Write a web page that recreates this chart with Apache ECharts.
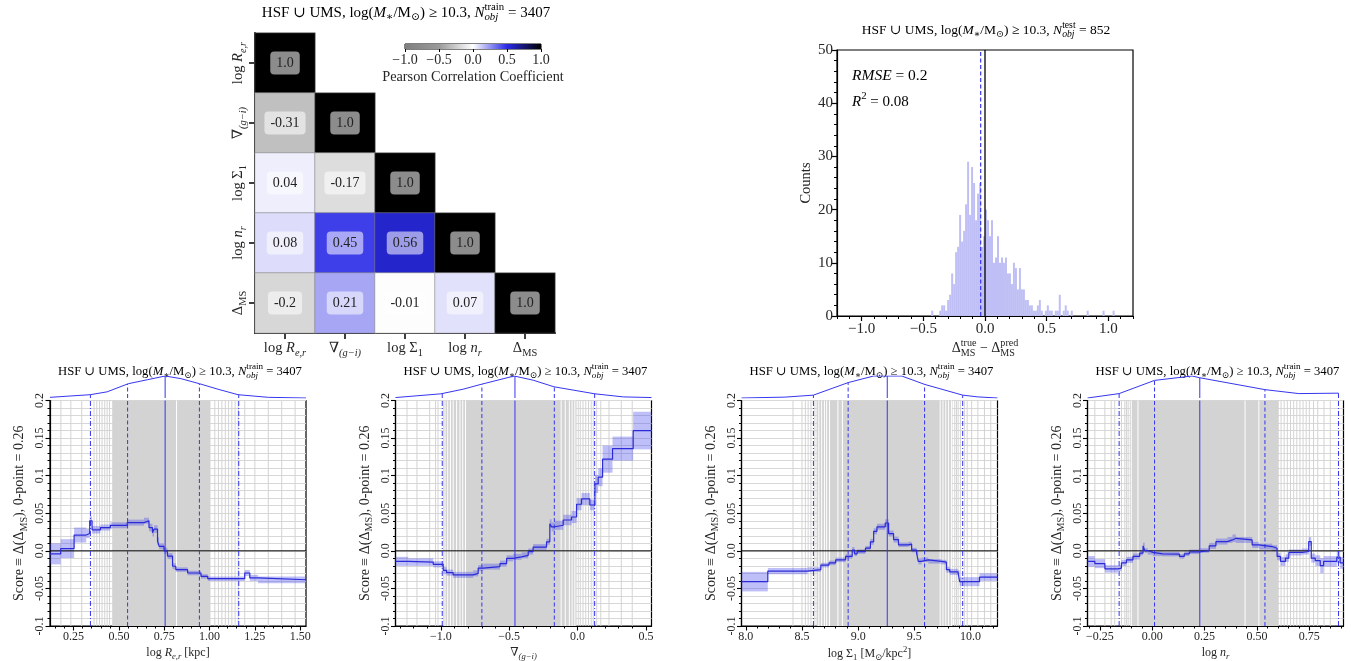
<!DOCTYPE html>
<html><head><meta charset="utf-8">
<script src="https://cdn.jsdelivr.net/npm/echarts@6/dist/echarts.min.js"></script>
<style>html,body{margin:0;padding:0;background:#fff}#c{width:1367px;height:661px}</style>
</head><body><div id="c"></div>
<script>
// ---------------- DATA ----------------
const corrRows = [[1.0],[-0.31,1.0],[0.04,-0.17,1.0],[0.08,0.45,0.56,1.0],[-0.2,0.21,-0.01,0.07,1.0]];
const cbarTicks = [-1,-0.5,0,0.5,1];
const cmapColors = ['#7f7f7f','#9a9a9a','#ffffff','#2a2ae8','#000000'];

const histBinStart = -0.436, histBinWidth = 0.01616;
const histCounts = [1,0,0,0,1,2,2,1,3,4, 8,6,12,13,19,14,16,21,29,19, 28,25,18,23,25,13,15,20,18,15,
  18,10,11,15,10,11,10,11,8,8, 6,10,9,5,9,5,5,3,3,2, 2,1,1,2,3,1,0,1,2,1, 1,0,1,1,4,0,1,2,1,0,
  1,0,0,0,0,0,0,0,1,0, 0,0,0,0,0,0,1,0,0,0, 0,1];
const histMedianLine = -0.035;
const histXTicks = [-1,-0.5,0,0.5,1];

// Panel 1 : log R_e,r
const p1Edges = [0.12,0.179,0.253,0.32,0.339,0.352,0.398,0.453,0.546,0.638,0.666,0.685,0.694,0.713,0.722,0.749,0.768,0.796,0.814,0.879,0.953,0.99,1.194,1.222,1.268,1.532];
const p1Score = [-0.004,0.003,0.021,0.023,0.040,0.028,0.031,0.034,0.0375,0.040,0.031,0.024,0.029,0.013,0.006,0.000,-0.007,-0.0205,-0.025,-0.0295,-0.034,-0.037,-0.0295,-0.036,-0.0385];
const p1Err = [0.014,0.0125,0.01,0.006,0.006,0.005,0.004,0.004,0.004,0.004,0.005,0.005,0.005,0.005,0.004,0.004,0.004,0.004,0.003,0.003,0.003,0.003,0.004,0.004,0.0045];
const p1KdeX = [0.12,0.342,0.435,0.552,0.657,0.755,0.842,0.944,1.046,1.157,1.324,1.532];
const p1KdeY = [0.03,0.15,0.28,0.65,0.83,1.0,0.88,0.65,0.4,0.15,0.03,0.0];
const p1Quant = [0.343,0.548,0.755,0.944,1.161];
const p1QuantKde = [0.15,0.64,1.0,0.64,0.15];
const p1Dense = [0.463,1.005];
const p1GrayLines = [0.18,0.235,0.295,0.363,0.378,0.393,0.407,0.422,0.435,0.448,1.029,1.049,1.068,1.087,1.105,1.123,1.141,1.158,1.194,1.25,1.324,1.398,1.472];
const p1WhiteLines = [0.818];

// Panel 2 : grad (g-i)
const p2Edges = [-1.332,-1.239,-1.056,-0.983,-0.958,-0.910,-0.764,-0.727,-0.690,-0.568,-0.519,-0.471,-0.410,-0.361,-0.325,-0.227,-0.203,-0.190,-0.166,-0.105,-0.044,-0.007,0.029,0.090,0.127,0.151,0.183,0.256,0.407,0.541];
const p2Score = [-0.014,-0.015,-0.018,-0.026,-0.029,-0.032,-0.030,-0.023,-0.021,-0.017,-0.010,-0.008,-0.006,-0.001,0.005,0.012,0.036,0.032,0.034,0.041,0.045,0.062,0.069,0.061,0.089,0.098,0.122,0.136,0.160];
const p2Err = [0.006,0.005,0.004,0.005,0.004,0.004,0.004,0.004,0.004,0.004,0.004,0.004,0.004,0.004,0.004,0.004,0.006,0.006,0.006,0.007,0.008,0.008,0.008,0.007,0.012,0.012,0.018,0.016,0.025];
const p2KdeX = [-1.332,-1.0,-0.837,-0.707,-0.464,-0.325,-0.173,0.127,0.334,0.541];
const p2KdeY = [0.02,0.19,0.40,0.62,1.0,0.81,0.51,0.19,0.05,0.02];
const p2Quant = [-0.99,-0.70,-0.458,-0.17,0.125];
const p2QuantKde = [0.19,0.62,1.0,0.51,0.19];
const p2Dense = [-0.983,-0.007];
const p2GrayLines = [-1.248,-1.175,-1.082,-1.039,-1.021,0.005,0.02,0.04,0.06,0.08,0.10,0.115,0.14,0.17,0.23,0.32,0.40];
const p2WhiteLines = [-0.97,-0.95,-0.93,-0.91,-0.885,-0.86,-0.84,-0.82,-0.12,-0.09,-0.06,-0.04,-0.02];

// Panel 3 : log Sigma_1
const p3Edges = [7.962,8.196,8.549,8.668,8.741,8.800,8.888,8.947,8.968,8.991,9.065,9.109,9.138,9.167,9.241,9.271,9.315,9.359,9.447,9.476,9.520,9.535,9.564,9.624,9.741,9.785,9.815,9.888,9.903,10.080,10.24];
const p3Score = [-0.041,-0.027,-0.025,-0.019,-0.016,-0.012,-0.0075,0.001,-0.004,-0.001,0.0035,0.012,0.026,0.032,0.037,0.023,0.015,0.008,0.009,0.001,-0.003,-0.014,-0.012,-0.014,-0.015,-0.025,-0.028,-0.030,-0.041,-0.035];
const p3Err = [0.013,0.004,0.003,0.003,0.003,0.003,0.003,0.004,0.003,0.003,0.003,0.004,0.004,0.004,0.005,0.004,0.004,0.003,0.003,0.003,0.003,0.004,0.003,0.003,0.003,0.004,0.004,0.004,0.006,0.005];
const p3KdeX = [7.962,8.35,8.602,8.911,9.138,9.388,9.591,9.93,10.065,10.24];
const p3KdeY = [0.0,0.04,0.13,0.70,1.0,1.0,0.62,0.13,0.05,0.0];
const p3Quant = [8.602,8.911,9.259,9.591,9.93];
const p3QuantKde = [0.13,0.70,1.0,0.62,0.13];
const p3Dense = [8.63,9.84];
const p3GrayLines = [8.42,8.50,8.53,8.555,8.58,8.615,9.86,9.875,9.89,9.91,9.945,9.97,10.01,10.065,10.124,10.18];
const p3WhiteLines = [8.65,8.675,8.70,8.72,8.745,8.82,8.86,9.73,9.755,9.78,9.805,9.83];

// Panel 4 : log n_r
const p4Edges = [-0.309,-0.274,-0.226,-0.163,-0.147,-0.123,-0.092,-0.060,-0.044,-0.036,-0.021,0.003,0.050,0.130,0.153,0.177,0.225,0.272,0.304,0.359,0.383,0.399,0.477,0.509,0.573,0.596,0.612,0.636,0.652,0.715,0.747,0.759,0.778,0.802,0.818,0.881,0.897,0.913];
const p4Score = [-0.014,-0.017,-0.024,-0.023,-0.016,-0.012,-0.0075,-0.003,0.0066,0.0004,-0.002,-0.004,-0.0044,-0.0075,-0.004,-0.0013,0.0004,0.0066,0.0123,0.0145,0.0167,0.0145,0.0079,0.0057,0.0035,-0.0075,-0.014,-0.0097,-0.0022,-0.0009,0.0123,-0.0097,-0.013,-0.0198,-0.014,-0.0084,-0.016];
const p4Err = [0.007,0.006,0.005,0.004,0.004,0.004,0.004,0.003,0.004,0.003,0.003,0.003,0.003,0.003,0.003,0.003,0.003,0.004,0.004,0.004,0.005,0.004,0.004,0.004,0.004,0.005,0.006,0.005,0.004,0.004,0.006,0.006,0.007,0.010,0.007,0.008,0.008];
const p4KdeX = [-0.309,-0.158,0.011,0.19,0.227,0.538,0.70,0.889];
const p4KdeY = [0.0,0.2,0.8,1.0,0.92,0.38,0.2,0.22];
const p4Quant = [-0.158,0.011,0.227,0.538,0.889];
const p4QuantKde = [0.2,0.8,0.92,0.38,0.22];
const p4Dense = [-0.107,0.604];
const p4GrayLines = [-0.274,-0.226,-0.196,-0.179,-0.147,-0.131,-0.123,-0.115,0.615,0.63,0.645,0.66,0.675,0.69,0.705,0.72,0.735,0.75,0.77,0.79,0.82,0.85];
const p4WhiteLines = [-0.10,-0.068,0.443,0.509];

// ---------------- STYLE / TEXT ----------------
const F = '"Liberation Serif","DejaVu Serif",serif';
const TXT = '#262626';
const measCtx = document.createElement('canvas').getContext('2d');
function textW(t, size, italic){ measCtx.font = (italic?'italic ':'') + size + 'px ' + F; return measCtx.measureText(t).width; }
function zeroTok(t, sub, dn, italic){
  const w = textW(t, sub, italic);
  return {fontFamily:F, fontSize:sub, fontStyle:italic?'italic':'normal', color:TXT, width:0.01, padding:[dn, -w/2, 0, w/2]};
}
function rich(s){
  const sub = Math.round(s*0.72*10)/10, dn = Math.round(s*0.62), up = Math.round(s*0.75);
  return {
    r:{fontFamily:F,fontSize:s,color:TXT},
    i:{fontFamily:F,fontSize:s,fontStyle:'italic',color:TXT},
    sb:{fontFamily:F,fontSize:sub,color:TXT,padding:[dn,0,0,0]},
    sbi:{fontFamily:F,fontSize:sub,fontStyle:'italic',color:TXT,padding:[dn,0,0,0]},
    sp:{fontFamily:F,fontSize:sub,color:TXT,padding:[0,0,up,0]},
    zobj:zeroTok('obj', sub, dn, true),
    zms:zeroTok('MS', sub, dn, false)
  };
}
const labLogR = '{r|log }{i|R}{sbi|e,r}';
const labGrad = '{r|∇}{sbi|(g−i)}';
const labLogS = '{r|log Σ}{sb|1}';
const labLogN = '{r|log }{i|n}{sbi|r}';
const labDMS = '{r|Δ}{sb|MS}';
const corrNames = [labLogR, labGrad, labLogS, labLogN, labDMS];
const titleTrain = '{r|HSF ∪ UMS, log(}{i|M}{sb|∗}{r|/M}{sb|⊙}{r|) ≥ 10.3, }{i|N}{zobj|obj}{sp|train}{r| = 3407}';
const titleTest = '{r|HSF ∪ UMS, log(}{i|M}{sb|∗}{r|/M}{sb|⊙}{r|) ≥ 10.3, }{i|N}{zobj|obj}{sp|test}{r| = 852}';
const scoreName = '{r|Score ≡ Δ(Δ}{sb|MS}{r|), 0-point = 0.26}';
const panelXNames = [labLogR + '{r| [kpc]}', labGrad, labLogS + '{r| [M}{sb|⊙}{r|/kpc}{sp|2}{r|]}', labLogN];

const minus = (v,d) => (v < -1e-12 ? '−' : '') + Math.abs(v).toFixed(d);
const BLUE = '#3535f0';
const DASHDOT = [5,2,1,2], DASHED = [4,2.5];

// ---------------- BUILD ----------------
const panels = [
 {edges:p1Edges, s:p1Score, e:p1Err, kx:p1KdeX, ky:p1KdeY, q:p1Quant, qk:p1QuantKde, dense:p1Dense, gl:p1GrayLines, wl:p1WhiteLines, major:[0.25,0.5,0.75,1,1.25,1.5], dec:2, minorStep:0.05},
 {edges:p2Edges, s:p2Score, e:p2Err, kx:p2KdeX, ky:p2KdeY, q:p2Quant, qk:p2QuantKde, dense:p2Dense, gl:p2GrayLines, wl:p2WhiteLines, major:[-1,-0.5,0,0.5], dec:1, minorStep:0.1},
 {edges:p3Edges, s:p3Score, e:p3Err, kx:p3KdeX, ky:p3KdeY, q:p3Quant, qk:p3QuantKde, dense:p3Dense, gl:p3GrayLines, wl:p3WhiteLines, major:[8,8.5,9,9.5,10], dec:1, minorStep:0.1},
 {edges:p4Edges, s:p4Score, e:p4Err, kx:p4KdeX, ky:p4KdeY, q:p4Quant, qk:p4QuantKde, dense:p4Dense, gl:p4GrayLines, wl:p4WhiteLines, major:[-0.25,0,0.25,0.5,0.75], dec:2, minorStep:0.05}
];
function minorTicks(lo, hi, step, major){
  const out = [];
  const k0 = Math.ceil(lo/step - 1e-9), k1 = Math.floor(hi/step + 1e-9);
  for (let k=k0;k<=k1;k++){ const v = +(k*step).toFixed(6); if (!major.some(m=>Math.abs(m-v)<1e-9)) out.push(v); }
  return out;
}
function rectItem(api, x0, x1, y0, y1, style){
  const a = api.coord([x0,y0]), b = api.coord([x1,y1]);
  return {type:'rect', shape:{x:Math.min(a[0],b[0]), y:Math.min(a[1],b[1]), width:Math.abs(b[0]-a[0]), height:Math.abs(b[1]-a[1])}, style};
}
// vertical lines as a plain line series with breaks
function vlines(xi, yi, xs, y0, tops, color, type, width, z){
  const data = [];
  xs.forEach((v,i)=>{ data.push([v,y0],[v,Array.isArray(tops)?tops[i]:tops],[v,'-']); });
  return {type:'line', xAxisIndex:xi, yAxisIndex:yi, z:z, symbol:'none', silent:true, connectNulls:false,
    lineStyle:{color:color, width:width, type:type}, itemStyle:{color:color}, data:data, emphasis:{disabled:true}};
}

const grids = [], xAxes = [], yAxes = [], series = [], graphics = [];
const gridBase = {outerBoundsMode:'none', containLabel:false};
const axisLineBlk = {show:true, onZero:false, lineStyle:{color:'#000', width:1.2}};

// Heatmap (grid 0)
grids.push({...gridBase, left:255, top:33, width:300, height:300});
xAxes.push({type:'category', gridIndex:0, data:corrNames, position:'bottom',
  axisLine:{show:true,onZero:false,lineStyle:{color:'#000',width:2}}, axisTick:{show:true,alignWithLabel:true,length:6,lineStyle:{color:'#000',width:1.5}},
  axisLabel:{interval:0, hideOverlap:false, margin:6, rich:rich(14.5), color:TXT}, splitLine:{show:false}, splitArea:{show:false}});
yAxes.push({type:'category', gridIndex:0, data:corrNames, inverse:true,
  axisLine:{show:true,onZero:false,lineStyle:{color:'#000',width:2}}, axisTick:{show:true,alignWithLabel:true,length:6,lineStyle:{color:'#000',width:1.5}},
  axisLabel:{interval:0, hideOverlap:false, margin:7, rotate:90, rich:rich(14.5), color:TXT}, splitLine:{show:false}, splitArea:{show:false}});
const heatData = [];
corrRows.forEach((row,r)=>row.forEach((v,c)=>heatData.push([c,r,v])));
series.push({id:'heat', type:'heatmap', xAxisIndex:0, yAxisIndex:0, data:heatData,
  itemStyle:{borderColor:'rgba(128,128,128,0.55)', borderWidth:1},
  label:{show:true, formatter:p=>{const v=p.value[2];return Number.isInteger(v)?v.toFixed(1):String(v);},
    fontFamily:F, fontSize:14, color:'#222', backgroundColor:'rgba(255,255,255,0.55)', borderRadius:4, padding:[5,6,4,6]},
  emphasis:{disabled:true}});

// Colorbar (grid 1)
grids.push({...gridBase, left:405, top:44, width:136, height:5, show:true, borderColor:'#000', borderWidth:1});
xAxes.push({type:'value', gridIndex:1, min:-1, max:1, interval:0.5, position:'bottom',
  axisLine:{show:false,onZero:false}, axisTick:{show:true,length:3,lineStyle:{color:'#000'}},
  axisLabel:{margin:4, formatter:v=>minus(v,1), fontFamily:F, fontSize:14, color:TXT}, splitLine:{show:false},
  name:'Pearson Correlation Coefficient', nameLocation:'middle', nameGap:21, nameTextStyle:{fontFamily:F,fontSize:14.3,color:TXT}});
yAxes.push({type:'value', gridIndex:1, min:0, max:1, show:false, axisLine:{onZero:false}});
series.push({type:'custom', xAxisIndex:1, yAxisIndex:1, data:[[-1,1]], silent:true,
  renderItem:(p,api)=>rectItem(api,-1,1,0,1,{fill:{type:'linear',x:0,y:0,x2:1,y2:0,colorStops:cmapColors.map((c,i)=>({offset:i/(cmapColors.length-1),color:c}))}})});

// Histogram (grid 2)
grids.push({...gridBase, left:837, top:50, width:296, height:266, show:true, borderColor:'#000', borderWidth:1.2});
xAxes.push({type:'value', gridIndex:2, min:-1.2, max:1.2, position:'bottom',
  axisLine:axisLineBlk, axisTick:{show:true, customValues:histXTicks, length:5, lineStyle:{color:'#000',width:1.2}},
  axisLabel:{customValues:histXTicks, formatter:v=>minus(v,1), fontFamily:F, fontSize:15, color:TXT, margin:6}, splitLine:{show:false},
  name:'{r|Δ}{zms|MS}{sp|true}{r| − Δ}{zms|MS}{sp|pred}', nameLocation:'middle', nameGap:22, nameTextStyle:{rich:rich(14)}});
xAxes.push({type:'value', gridIndex:2, min:-1.2, max:1.2, position:'bottom', axisLine:{show:false,onZero:false}, axisLabel:{show:false}, splitLine:{show:false},
  axisTick:{show:true, customValues:minorTicks(-1.2,1.2,0.1,histXTicks), length:3, lineStyle:{color:'#000',width:1}}});
yAxes.push({type:'value', gridIndex:2, min:0, max:50, interval:10, axisLine:axisLineBlk,
  axisTick:{show:true,length:5,lineStyle:{color:'#000',width:1.2}}, minorTick:{show:true,splitNumber:5,length:3,lineStyle:{color:'#000'}},
  axisLabel:{fontFamily:F,fontSize:15,color:TXT,margin:4}, splitLine:{show:false},
  name:'Counts', nameLocation:'middle', nameGap:22, nameRotate:90, nameTextStyle:{fontFamily:F,fontSize:14.5,color:TXT}});
series.push({type:'custom', xAxisIndex:2, yAxisIndex:2, silent:true,
  data:histCounts.map((c,k)=>[histBinStart+k*histBinWidth, histBinStart+(k+1)*histBinWidth, c]),
  encode:{x:[0,1], y:2},
  renderItem:(p,api)=>api.value(2)>0 ? rectItem(api, api.value(0), api.value(1), 0, api.value(2), {fill:'#bfbff5'}) : null});
series.push(vlines(2, 2, [0], 0, 50, '#000000', 'solid', 1.3, 4));
series.push(vlines(2, 2, [histMedianLine], 0, 50, BLUE, DASHED, 1.2, 4));
graphics.push({type:'text', x:406, y:13, style:{text:titleTrain, rich:rich(15), align:'center', verticalAlign:'middle'}});
graphics.push({type:'text', x:986, y:30, style:{text:titleTest, rich:rich(13.5), align:'center', verticalAlign:'middle'}});
graphics.push({type:'text', x:852, y:76, style:{text:'{i|RMSE}{r| = 0.2}', rich:rich(15.5), align:'left', verticalAlign:'middle'}});
graphics.push({type:'text', x:852, y:102, style:{text:'{i|R}{sp|2}{r| = 0.08}', rich:rich(15), align:'left', verticalAlign:'middle'}});

// Bottom panels
const PL = [50, 395.5, 741.5, 1087.5], PW = 256, PT = 400.5, PH = 225.5, KT = 376, KH = 22;
panels.forEach((P,p)=>{
  const lo = P.edges[0], hi = P.edges[P.edges.length-1];
  const gMain = grids.length;
  grids.push({...gridBase, left:PL[p], top:PT, width:PW, height:PH, show:true, borderColor:'#000', borderWidth:1.2, backgroundColor:'#fff'});
  grids.push({...gridBase, left:PL[p], top:KT, width:PW, height:KH});
  const xm = xAxes.length;
  xAxes.push({type:'value', gridIndex:gMain, min:lo, max:hi, position:'bottom', axisLine:axisLineBlk,
    axisTick:{show:true, customValues:P.major, length:4.5, lineStyle:{color:'#000',width:1.1}},
    axisLabel:{customValues:P.major, formatter:v=>minus(v,P.dec), fontFamily:F, fontSize:12, color:TXT, margin:5}, splitLine:{show:false},
    name:panelXNames[p], nameLocation:'middle', nameGap:19, nameTextStyle:{rich:rich(12)}});
  xAxes.push({type:'value', gridIndex:gMain, min:lo, max:hi, position:'bottom', axisLine:{show:false,onZero:false}, axisLabel:{show:false}, splitLine:{show:false},
    axisTick:{show:true, customValues:minorTicks(lo,hi,P.minorStep,P.major), length:2.5, lineStyle:{color:'#000',width:1}}});
  xAxes.push({type:'value', gridIndex:gMain+1, min:lo, max:hi, show:false, axisLine:{onZero:false}});
  const ym = yAxes.length;
  yAxes.push({type:'value', gridIndex:gMain, min:-0.1, max:0.2, interval:0.05, axisLine:axisLineBlk,
    axisTick:{show:true,length:4.5,lineStyle:{color:'#000',width:1.1}}, minorTick:{show:true,splitNumber:5,length:2.5,lineStyle:{color:'#000'}},
    axisLabel:{rotate:90, formatter:v=>Math.abs(v)<1e-9?'0.0':String(+v.toFixed(2)), fontFamily:F, fontSize:12, color:TXT, margin:4},
    splitLine:{show:true,lineStyle:{color:'#d8d8d8',width:1}}, minorSplitLine:{show:true,lineStyle:{color:'#d8d8d8',width:1}},
    name:scoreName, nameLocation:'middle', nameRotate:90, nameGap:21, nameTextStyle:{rich:rich(14)}});
  yAxes.push({type:'value', gridIndex:gMain+1, min:0, max:1, show:false, axisLine:{onZero:false}});
  // dense (gray) region
  series.push({type:'custom', xAxisIndex:xm, yAxisIndex:ym, z:1, silent:true, data:[[P.dense[0], P.dense[1]]], encode:{x:[0,1]},
    renderItem:(prm,api)=>rectItem(api, api.value(0), api.value(1), -0.1, 0.2, {fill:'#d3d3d3'})});
  // quantile gray / white lines
  series.push(vlines(xm, ym, P.gl, -0.1, 0.2, '#d3d3d3', 'solid', 1, 2));
  series.push(vlines(xm, ym, P.wl, -0.1, 0.2, '#ffffff', 'solid', 1, 2));
  // error band
  series.push({type:'custom', xAxisIndex:xm, yAxisIndex:ym, z:3, silent:true,
    data:P.s.map((s,i)=>[P.edges[i], P.edges[i+1], s-P.e[i], s+P.e[i]]), encode:{x:[0,1], y:[2,3]},
    renderItem:(prm,api)=>rectItem(api, api.value(0), api.value(1), api.value(2), api.value(3), {fill:'rgba(70,70,235,0.35)'})});
  // zero line
  series.push({type:'line', xAxisIndex:xm, yAxisIndex:ym, z:4, symbol:'none', silent:true, lineStyle:{color:'#000',width:1}, data:[[lo,0],[hi,0]]});
  // quantile lines: 5/95 dash-dot, 25/75 dashed, median solid
  const qDD = [P.q[0],P.q[4]], qDA = [P.q[1],P.q[3]], qMed = [P.q[2]];
  series.push(vlines(xm, ym, qDD, -0.1, 0.2, BLUE, DASHDOT, 1, 4));
  series.push(vlines(xm, ym, qDA, -0.1, 0.2, BLUE, DASHED, 1, 4));
  series.push(vlines(xm, ym, qMed, -0.1, 0.2, BLUE, 'solid', 1, 4));
  // step line
  series.push({type:'line', xAxisIndex:xm, yAxisIndex:ym, z:5, step:'end', symbol:'none', silent:true,
    lineStyle:{color:'#2b2bd8', width:1.2},
    data:P.s.map((s,i)=>[P.edges[i], s]).concat([[hi, P.s[P.s.length-1]]])});
  // KDE strip
  series.push({type:'line', xAxisIndex:xm+2, yAxisIndex:ym+1, symbol:'none', silent:true, lineStyle:{color:BLUE,width:1},
    data:P.kx.map((x,i)=>[x,P.ky[i]])});
  series.push(vlines(xm+2, ym+1, qDD, 0, [P.qk[0],P.qk[4]], BLUE, DASHDOT, 1, 3));
  series.push(vlines(xm+2, ym+1, qDA, 0, [P.qk[1],P.qk[3]], BLUE, DASHED, 1, 3));
  series.push(vlines(xm+2, ym+1, qMed, 0, [P.qk[2]], BLUE, 'solid', 1, 3));
  graphics.push({type:'text', x:PL[p]+PW/2+2, y:372, style:{text:titleTrain, rich:rich(12.7), align:'center', verticalAlign:'middle'}});
});

const chart = echarts.init(document.getElementById('c'));
chart.setOption({
  animation:false, backgroundColor:'#fff',
  grid:grids, xAxis:xAxes, yAxis:yAxes, series:series, graphic:graphics,
  visualMap:[{show:false, type:'continuous', min:-1, max:1, seriesId:'heat', seriesIndex:0, dimension:2, inRange:{color:cmapColors}}]
});
</script></body></html>
